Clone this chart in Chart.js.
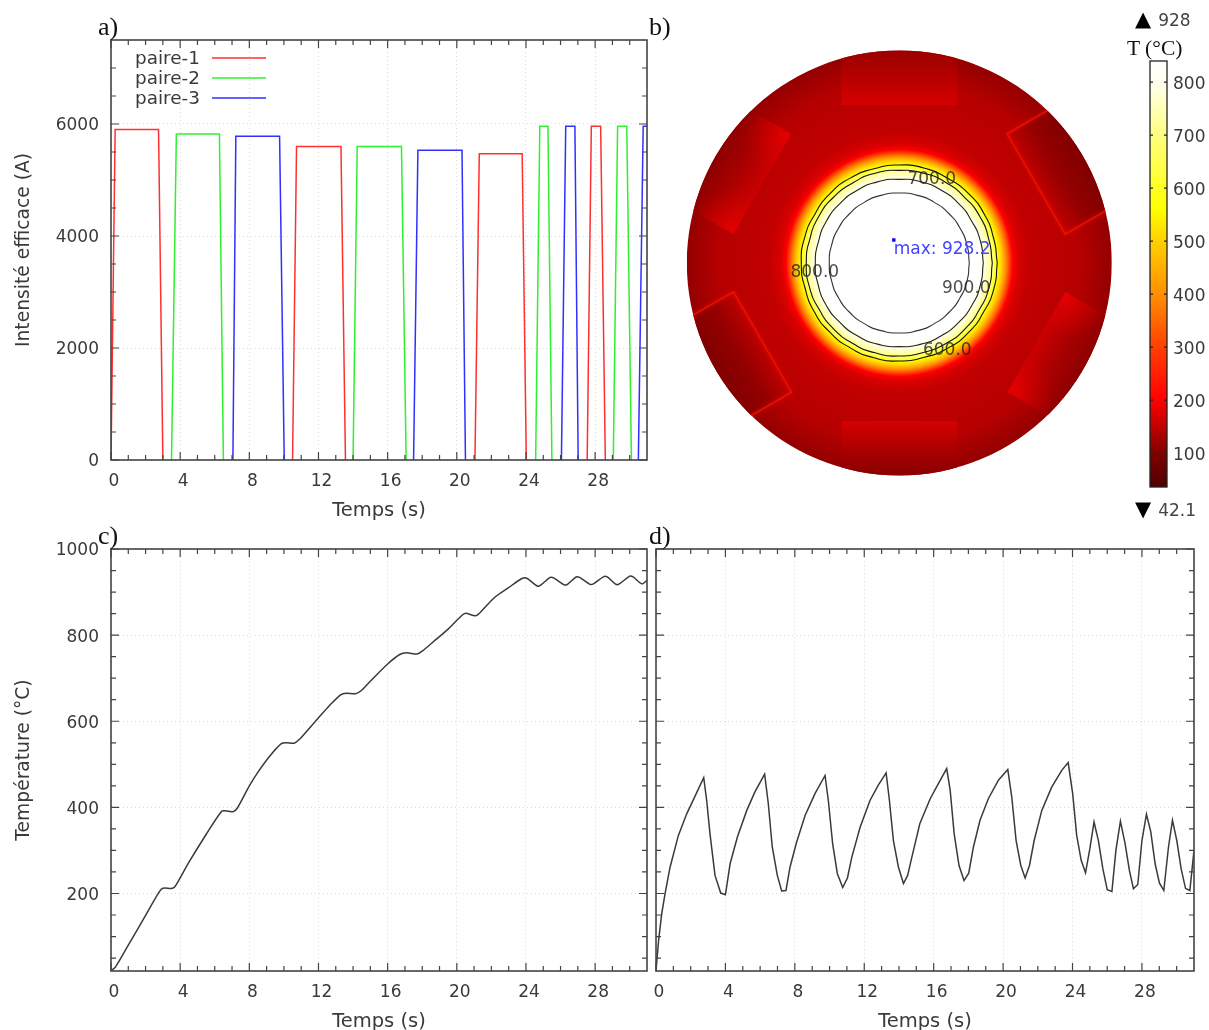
<!DOCTYPE html>
<html lang="fr"><head><meta charset="utf-8">
<script src="https://cdn.jsdelivr.net/npm/chart.js@4/dist/chart.umd.min.js"></script>
<style>
html,body{margin:0;padding:0;background:#fff;width:1209px;height:1030px;overflow:hidden}
canvas{position:absolute;display:block}
.lab{position:absolute;white-space:nowrap;line-height:1;color:#111;font-family:"Liberation Serif",serif}
.cb{position:absolute;white-space:nowrap;line-height:1;color:#444;font-family:"DejaVu Sans",sans-serif;font-size:17px}
.cb b{font-weight:normal;color:#000;font-size:21px;margin-right:7px}
</style></head><body>
<canvas id="ca" width="652" height="500" style="left:0;top:30px"></canvas>
<canvas id="cb" width="440" height="445" style="left:680px;top:40px"></canvas>
<canvas id="cbar" width="69" height="450" style="left:1140px;top:50px"></canvas>
<canvas id="cc" width="652" height="496" style="left:0;top:538px"></canvas>
<canvas id="cd" width="553" height="496" style="left:652px;top:538px"></canvas>
<div class="lab" style="left:98px;top:14px;font-size:26px">a)</div>
<div class="lab" style="left:649px;top:14px;font-size:26px">b)</div>
<div class="lab" style="left:98px;top:523px;font-size:26px">c)</div>
<div class="lab" style="left:649px;top:523px;font-size:26px">d)</div>
<div class="lab" style="left:1127px;top:38px;font-size:21.5px">T (°C)</div>
<div class="cb" style="left:1135px;top:9px"><b>▲</b>928</div>
<div class="cb" style="left:1135px;top:499px"><b>▼</b>42.1</div>
<script>
// ---------- shared axes ----------
const timeTicks = [0,4,8,12,16,20,24,28];
const timeMinorTicks = [1,2,3,5,6,7,9,10,11,13,14,15,17,18,19,21,22,23,25,26,27,29,30];
const currentTicks = [0,2000,4000,6000];
const currentMinorTicks = [500,1000,1500,2500,3000,3500,4500,5000,5500,6500,7000];
const tempTicks = [200,400,600,800,1000];
const tempMinorTicks = [50,100,150,250,300,350,450,500,550,650,700,750,850,900,950];

// ---------- panel a ----------
const pair1Time = [0,0.24,2.75,3.0,null,10.5,10.73,13.3,13.56,null,21.05,21.3,23.78,24.02,null,27.54,27.78,28.32,28.59];
const pair1Amps = [0,5900,5900,0,null,0,5600,5600,0,null,0,5470,5470,0,null,0,5960,5960,0];
const pair2Time = [3.5,3.78,6.27,6.5,null,14.0,14.24,16.8,17.07,null,24.56,24.8,25.27,25.5,null,29.05,29.3,29.83,30.1];
const pair2Amps = [0,5820,5820,0,null,0,5600,5600,0,null,0,5960,5960,0,null,0,5960,5960,0];
const pair3Time = [7.05,7.22,9.75,10.02,null,17.5,17.75,20.3,20.5,null,26.05,26.3,26.83,27.02,null,30.5,30.78,31];
const pair3Amps = [0,5780,5780,0,null,0,5530,5530,0,null,0,5960,5960,0,null,0,5960,5960];

// ---------- panel c ----------
const coreTime = [0,0.27,1.0,2.0,2.78,3.0,3.56,3.75,4.5,5.5,6.4,6.6,7.05,7.3,8.0,8.5,9.2,9.85,10.15,10.6,10.9,11.5,12,12.6,13.3,13.6,14.15,14.5,15,16,16.7,17.1,17.7,18,18.8,19.5,20.27,20.5,21.1,21.5,22.2,22.95,23.8,24.05,24.65,24.85,25.4,25.6,26.2,26.4,26.9,27.1,27.7,27.9,28.5,28.7,29.2,29.4,30,30.2,30.7,31];
const coreTemp = [20,30,80,149,203,212,212,219,272,337,391,392,390,398,450,482,520,548,550,549,558,585,608,635,662,665,664,672,693,733,755,759,756,763,790,814,845,851,845,859,888,909,932,932,914,916,934,933,917,918,935,934,918,919,936,935,918,919,937,935,919,927];

// ---------- panel d ----------
const skinTime = [0,0.15,0.33,0.52,0.81,1.29,1.77,2.25,2.75,2.92,3.11,3.4,3.73,4.0,4.27,4.69,5.23,5.7,6.26,6.47,6.7,6.99,7.24,7.49,7.72,8.1,8.59,9.16,9.74,9.93,10.18,10.45,10.76,11.03,11.28,11.76,12.33,12.8,13.26,13.45,13.68,13.97,14.26,14.5,14.74,15.2,15.8,16.27,16.75,16.95,17.18,17.46,17.75,18.02,18.29,18.67,19.15,19.73,20.27,20.5,20.75,21.02,21.27,21.52,21.79,22.23,22.8,23.38,23.75,24.01,24.24,24.5,24.75,25.0,25.24,25.49,25.75,26.0,26.27,26.5,26.76,27.03,27.28,27.51,27.76,28.0,28.26,28.51,28.76,29.01,29.26,29.53,29.76,30.01,30.26,30.51,30.76,31];
const skinTemp = [20,91,153,199,261,335,385,426,469,416,339,242,201,197,269,331,393,436,477,409,308,242,206,207,261,319,381,432,474,416,315,246,214,236,284,354,416,451,480,416,323,261,223,242,284,362,420,455,490,440,339,265,230,247,308,370,420,463,488,424,323,265,236,265,323,393,447,486,504,432,335,277,248,304,366,323,257,209,205,300,368,316,253,211,221,323,384,343,269,224,207,308,370,323,257,212,207,300];

// ---------- panel b: temperature map ----------
const colorTemps  = [36,100,150,170,200,300,400,500,560,700,800,840];
const colorValues = ['#500000','#800000','#c00000','#d80000','#ff0000','#ff4000','#ff9000','#ffd000','#ffff00','#ffff80','#fffff0','#ffffff'];
const colorbarTicks = [100,200,300,400,500,600,700,800];
const profileRadius = [0,78,84,93,98,102,106,110,113,118,130,180,212];
const profileTemp   = [840,840,800,700,560,500,400,300,200,172,152,142,116];
const contourAngles = [0,15,30,45,60,75,90,105,120,135,150,165,180,195,210,225,240,255,270,285,300,315,330,345];
const contour900 = [70,70,70,70,70,70,70,70,70,70,70,70,70,70,70,70,70,70,70,70,70,70,70,70];
const contour800 = [84,84,83.6,84,84,84,83.6,84,84,84,84,83.6,84,84,84.4,84,84,84,83.6,84,84,84,84,84];
const contour700 = [93,92.6,93,92.6,93,93,92.6,93,92.6,93,93,92.6,93,93,92.6,93,93,93,93,92.6,93,93,92.6,93];
const contour600 = [98,97.5,98,98,97.5,98,98,97.5,98,98,97.5,98,98,97.5,98,98,98,98,98,97.5,98,98,97.5,98];
const contourLabels = [['700.0',32.5,83],['800.0',-84.5,-10],['900.0',67,-26],['600.0',48,-88]];
const peakPoint = [-5.5,23];
const peakLabel = 'max: 928.2';
// rotated strips: clockwise angle from top, temperatures at inner and outer edge, style
const stripAngles = [0,60,120,180,240,300];
const stripInner  = [168,150,160,168,150,160];
const stripOuter  = [122,100,110,108,100,110];
const stripEdged  = [false,true,false,false,true,false];
const stripGlow   = [false,false,true,false,false,true];

const tempColor = t => {
  let i = colorTemps.findIndex(v => v >= t);
  if (i <= 0) return colorValues[Math.max(i,0)];
  const f = (t-colorTemps[i-1])/(colorTemps[i]-colorTemps[i-1]);
  const h = c => [1,3,5].map(k => parseInt(c.slice(k,k+2),16));
  const a = h(colorValues[i-1]), b = h(colorValues[i]);
  return 'rgb('+a.map((v,k)=>Math.round(v+(b[k]-v)*f)).join(',')+')';
};
const polar = (radii) => {
  const pts = contourAngles.map((a,i)=>({x:radii[i]*Math.cos(a*Math.PI/180),y:radii[i]*Math.sin(a*Math.PI/180)}));
  pts.push(pts[0]);
  return pts;
};

const FONT = '"DejaVu Sans", sans-serif';
const INK = '#3a3a3a';
const noPad = s => { s.paddingLeft = s.paddingRight = s.paddingTop = s.paddingBottom = 0; };

const framePlugin = {
  id:'frame',
  afterDatasetsDraw(chart,_,o){
    if(!o.on) return;
    const {ctx,chartArea:A,scales:{x,y}} = chart;
    ctx.save();
    ctx.strokeStyle = '#444'; ctx.lineWidth = 1.2;
    const v=(px,len)=>{ctx.beginPath();ctx.moveTo(px,A.bottom);ctx.lineTo(px,A.bottom-len);ctx.moveTo(px,A.top);ctx.lineTo(px,A.top+len);ctx.stroke();};
    const h=(py,len)=>{ctx.beginPath();ctx.moveTo(A.left,py);ctx.lineTo(A.left+len,py);ctx.moveTo(A.right,py);ctx.lineTo(A.right-len,py);ctx.stroke();};
    timeTicks.forEach(t=>v(x.getPixelForValue(t),8));
    timeMinorTicks.forEach(t=>v(x.getPixelForValue(t),5));
    o.yMajor.forEach(t=>h(y.getPixelForValue(t),8));
    o.yMinor.forEach(t=>h(y.getPixelForValue(t),5));
    ctx.lineWidth = 1.6;
    ctx.strokeRect(A.left,A.top,A.right-A.left,A.bottom-A.top);
    if(o.legend){
      ctx.font = '18.4px '+FONT; ctx.textBaseline='middle'; ctx.textAlign='left';
      chart.data.datasets.forEach((d,i)=>{
        const yy = 58+i*20-30;
        ctx.fillStyle = INK; ctx.fillText(d.label,135,yy+1);
        ctx.strokeStyle = d.borderColor; ctx.lineWidth = 1.4;
        ctx.beginPath(); ctx.moveTo(212,yy); ctx.lineTo(266,yy); ctx.stroke();
      });
    }
    ctx.restore();
  }
};

function xyData(xs,ys){return xs.map((x,i)=>({x,y:ys[i]}));}

function plotOptions(box,yMin,yMax,yTicks,yMinor,yTitle,legend){
  return {
    responsive:false,animation:false,devicePixelRatio:1,
    layout:{autoPadding:false,padding:{left:0,top:box.top,right:box.right,bottom:0}},
    plugins:{legend:{display:false},tooltip:{enabled:false},frame:{on:true,yMajor:yTicks,yMinor,legend}},
    scales:{
      x:{type:'linear',min:0,max:31,
        afterBuildTicks:s=>{s.ticks=timeTicks.map(value=>({value}));},
        afterFit:s=>{s.height=box.xh;noPad(s);},
        grid:{color:'#dcdcdc',lineWidth:1,drawTicks:false},
        border:{display:false,dash:[1,3]},
        ticks:{autoSkip:false,maxRotation:0,padding:11,labelOffset:3,color:INK,font:{family:FONT,size:17},callback:v=>String(v)},
        title:{display:true,text:'Temps (s)',color:INK,font:{family:FONT,size:19.5},padding:{top:0,bottom:box.tb}}},
      y:{type:'linear',min:yMin,max:yMax,
        afterBuildTicks:s=>{s.ticks=yTicks.map(value=>({value}));},
        afterFit:s=>{s.width=box.yw;noPad(s);},
        grid:{color:'#dcdcdc',lineWidth:1,drawTicks:false},
        border:{display:false,dash:[1,3]},
        ticks:{display:!!yTitle,autoSkip:false,padding:12,labelOffset:2,color:INK,font:{family:FONT,size:17},callback:v=>String(v)},
        title:{display:!!yTitle,text:yTitle||'',color:INK,font:{family:FONT,size:18.7},padding:{top:13,bottom:0}}}
    }
  };
}
const lineDs=(label,xs,ys,color,extra)=>Object.assign({label,data:xyData(xs,ys),borderColor:color,borderWidth:1.5,pointRadius:0,showLine:true,fill:false,spanGaps:false},extra||{});

new Chart(document.getElementById('ca'),{type:'scatter',plugins:[framePlugin],
  data:{datasets:[lineDs('paire-1',pair1Time,pair1Amps,'#ff3030'),lineDs('paire-2',pair2Time,pair2Amps,'#30f030'),lineDs('paire-3',pair3Time,pair3Amps,'#3030ff')]},
  options:plotOptions({top:10,right:5,xh:70,yw:111,tb:7},0,7500,currentTicks,currentMinorTicks,'Intensité efficace (A)',true)});

new Chart(document.getElementById('cc'),{type:'scatter',plugins:[framePlugin],
  data:{datasets:[lineDs('Température centre',coreTime,coreTemp,'#3a3a3a',{tension:0.3})]},
  options:plotOptions({top:11,right:5,xh:63,yw:111,tb:0},20,1000,tempTicks,tempMinorTicks,'Température (°C)',false)});

new Chart(document.getElementById('cd'),{type:'scatter',plugins:[framePlugin],
  data:{datasets:[lineDs('Température surface',skinTime,skinTemp,'#3a3a3a')]},
  options:plotOptions({top:11,right:11,xh:63,yw:4,tb:0},20,1000,tempTicks,tempMinorTicks,null,false)});

// ---------- temperature map ----------
const mapPlugin = {
  id:'tempMap',
  beforeDatasetsDraw(chart){
    const {ctx,scales:{x,y}} = chart;
    const cx=x.getPixelForValue(0), cy=y.getPixelForValue(0), unit=x.getPixelForValue(1)-cx;
    const R=212.5*unit;
    ctx.save();
    ctx.beginPath();ctx.arc(cx,cy,R,0,Math.PI*2);ctx.clip();
    const g=ctx.createRadialGradient(cx,cy,0,cx,cy,R);
    profileRadius.forEach((r,i)=>g.addColorStop(r/212,tempColor(profileTemp[i])));
    ctx.fillStyle=g;ctx.fillRect(cx-R,cy-R,2*R,2*R);
    stripAngles.forEach((a,i)=>{
      ctx.save();
      ctx.translate(cx,cy);ctx.rotate(a*Math.PI/180);
      ctx.save();
      ctx.beginPath();ctx.rect(-58,-222,116,64);ctx.clip();
      const s=ctx.createLinearGradient(0,-158,0,-212);
      s.addColorStop(0,tempColor(stripInner[i]));
      s.addColorStop(0.45,tempColor((stripInner[i]+stripOuter[i])/2-(stripEdged[i]?8:0)));
      s.addColorStop(1,tempColor(stripOuter[i]));
      ctx.fillStyle=s;ctx.fillRect(-58,-222,116,64);
      if(stripGlow[i]){
        [-58,58].forEach(e=>{
          const r=ctx.createRadialGradient(e,-158,0,e,-158,46);
          r.addColorStop(0,'rgba(236,0,0,0.85)');r.addColorStop(1,'rgba(220,0,0,0)');
          ctx.fillStyle=r;ctx.fillRect(-58,-222,116,64);
        });
      }
      ctx.restore();
      if(stripEdged[i]){
        ctx.strokeStyle='#f41400';ctx.lineWidth=1.5;ctx.globalAlpha=.8;
        ctx.shadowColor='#ff1000';ctx.shadowBlur=4;
        ctx.beginPath();ctx.moveTo(-58,-222);ctx.lineTo(-58,-158);ctx.lineTo(58,-158);ctx.lineTo(58,-222);ctx.stroke();
      }
      ctx.restore();
    });
    ctx.restore();
  },
  afterDatasetsDraw(chart){
    const {ctx,scales:{x,y}} = chart;
    ctx.save();
    ctx.textAlign='center';ctx.textBaseline='middle';ctx.font='17px '+FONT;
    ctx.fillStyle='rgba(30,30,30,.8)';
    contourLabels.forEach(([t,px,py])=>ctx.fillText(t,x.getPixelForValue(px),y.getPixelForValue(py)));
    ctx.textAlign='left';ctx.fillStyle='#4545ff';
    ctx.fillText(peakLabel,x.getPixelForValue(peakPoint[0]),y.getPixelForValue(peakPoint[1]-10));
    ctx.restore();
  }
};
const contourDs=(label,r,color)=>({label,data:polar(r),borderColor:color,borderWidth:1.1,pointRadius:0,showLine:true,fill:false,tension:0.65});
new Chart(document.getElementById('cb'),{type:'scatter',plugins:[mapPlugin],
  data:{datasets:[
    contourDs('900',contour900,'#333'),contourDs('800',contour800,'#222'),
    contourDs('700',contour700,'#111'),contourDs('600',contour600,'#111'),
    {label:'max',data:[{x:peakPoint[0],y:peakPoint[1]}],pointStyle:'rect',pointRadius:2.4,backgroundColor:'#0000ff',borderWidth:0}
  ]},
  options:{responsive:false,animation:false,devicePixelRatio:1,layout:{autoPadding:false,padding:0},
    plugins:{legend:{display:false},tooltip:{enabled:false}},
    scales:{x:{type:'linear',display:false,min:-219.3,max:220.7},y:{type:'linear',display:false,min:-222,max:223}}}});

// ---------- colour bar ----------
const barFramePlugin={id:'barFrame',afterDatasetsDraw(chart){
  const {ctx,chartArea:A,scales:{y}}=chart;
  ctx.save();ctx.strokeStyle='#222';ctx.lineWidth=1.3;
  ctx.strokeRect(A.left,A.top,A.right-A.left,A.bottom-A.top);
  colorbarTicks.forEach(t=>{const p=y.getPixelForValue(t);ctx.beginPath();ctx.moveTo(A.left,p);ctx.lineTo(A.left+3,p);ctx.moveTo(A.right,p);ctx.lineTo(A.right-3,p);ctx.stroke();});
  ctx.restore();
}};
new Chart(document.getElementById('cbar'),{type:'bar',plugins:[barFramePlugin],
  data:{labels:['T'],datasets:[{label:'T (°C)',data:[[36,840]],barPercentage:1,categoryPercentage:1,
    backgroundColor(c){
      const y=c.chart.scales.y; if(!y||!c.chart.chartArea) return '#800000';
      const g=c.chart.ctx.createLinearGradient(0,y.getPixelForValue(36),0,y.getPixelForValue(840));
      colorTemps.forEach((t,i)=>g.addColorStop((t-36)/804,colorValues[i]));
      return g;
    }}]},
  options:{responsive:false,animation:false,devicePixelRatio:1,
    layout:{autoPadding:false,padding:{left:10,top:11,right:0,bottom:13}},
    plugins:{legend:{display:false},tooltip:{enabled:false}},
    scales:{x:{type:'category',display:false,afterFit:noPad},
      y:{type:'linear',position:'right',min:36,max:840,
        afterBuildTicks:s=>{s.ticks=colorbarTicks.map(value=>({value}));},
        afterFit:s=>{s.width=42;noPad(s);},
        grid:{display:false,drawTicks:false},border:{display:false},
        ticks:{autoSkip:false,padding:6,labelOffset:2,color:INK,font:{family:FONT,size:17},callback:v=>String(v)}}}}});
</script>
</body></html>
